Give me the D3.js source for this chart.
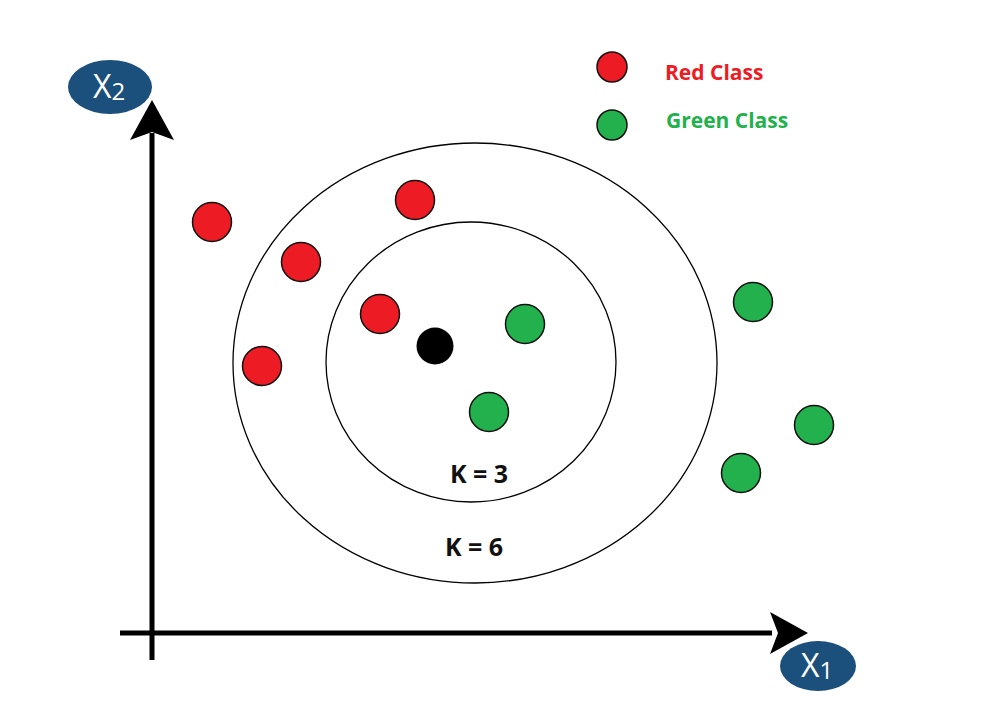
<!DOCTYPE html>
<html><head><meta charset="utf-8">
<script src="https://cdn.jsdelivr.net/npm/d3@7"></script>
<style>body{margin:0;background:#fff}</style>
</head><body>
<svg id="c" width="990" height="723"></svg>
<script>
const redPoints = [[60,411],[149,371],[263,433],[228,319],[110,267]];
const greenPoints = [[373,309],[337,221],[601,331],[662,208],[589,160]];
const queryPoint = [283,287];
const rings = [{k:6, cx:323, cy:270, rx:242, ry:220, labelX:322, labelY:77},{k:3, cx:319, cy:271, rx:145, ry:140, labelX:327, labelY:150}];
const legend = [{name:"Red Class", color:"#ed1c24"},{name:"Green Class", color:"#22b14c"}];

const svg = d3.select("#c");
const x = d3.scaleLinear().domain([0,650]).range([152,802]);
const y = d3.scaleLinear().domain([0,530]).range([633,103]);
const sx = d => x(d)-x(0), sy = d => y(0)-y(d);

// axes
svg.append("line").attr("x1",120).attr("x2",x(620)).attr("y1",y(0)).attr("y2",y(0)).attr("stroke","#000").attr("stroke-width",5);
svg.append("line").attr("x1",x(0)).attr("x2",x(0)).attr("y1",660).attr("y2",y(500)).attr("stroke","#000").attr("stroke-width",5);
svg.append("path").attr("d",`M${x(656)},${y(0)} L${x(618)},${y(0)-21} L${x(626)},${y(0)} L${x(618)},${y(0)+21} Z`).attr("fill","#000");
svg.append("path").attr("d",`M${x(0)},${y(533)} L${x(0)-22},${y(493)} L${x(0)},${y(501)} L${x(0)+22},${y(493)} Z`).attr("fill","#000");

// axis badges
function badge(cx,cy,rx,ry,sub){
  svg.append("ellipse").attr("cx",cx).attr("cy",cy).attr("rx",rx).attr("ry",ry).attr("fill","#1b4f7c");
  const t = svg.append("text").attr("x",cx-1).attr("y",cy+11).attr("text-anchor","middle")
    .attr("fill","#fff").attr("font-family","Open Sans, sans-serif").attr("font-size",32);
  t.append("tspan").text("X");
  t.append("tspan").attr("font-size",24).attr("dy",2).text(sub);
}
badge(110,87,42,27,"2");
badge(818,666,38,25,"1");

// rings
svg.selectAll("ellipse.ring").data(rings).join("ellipse").attr("class","ring")
  .attr("cx",d=>x(d.cx)).attr("cy",d=>y(d.cy)).attr("rx",d=>sx(d.rx)).attr("ry",d=>sy(d.ry))
  .attr("fill","none").attr("stroke","#000").attr("stroke-width",1.3);
svg.selectAll("text.k").data(rings).join("text").attr("class","k")
  .attr("x",d=>x(d.labelX)).attr("y",d=>y(d.labelY)).attr("text-anchor","middle")
  .attr("font-family","Open Sans, sans-serif").attr("font-weight","bold").attr("font-size",25)
  .attr("fill","#111").text(d=>`K = ${d.k}`);

// points
function pts(data,color){
  svg.append("g").selectAll("circle").data(data).join("circle")
    .attr("cx",d=>x(d[0])).attr("cy",d=>y(d[1])).attr("r",19.5)
    .attr("fill",color).attr("stroke","#111").attr("stroke-width",1.5);
}
pts(redPoints,legend[0].color);
pts(greenPoints,legend[1].color);
svg.append("circle").attr("cx",x(queryPoint[0])).attr("cy",y(queryPoint[1])).attr("r",18.5).attr("fill","#000");

// legend
const legCircleY = [67,125], legTextY = [80,128];
const lg = svg.append("g").selectAll("g").data(legend).join("g");
lg.append("circle").attr("cx",612).attr("cy",(d,i)=>legCircleY[i]).attr("r",15).attr("fill",d=>d.color).attr("stroke","#111").attr("stroke-width",1.5);
lg.append("text").attr("x",(d,i)=>665+i).attr("y",(d,i)=>legTextY[i]).text(d=>d.name).attr("fill",d=>d.color)
  .attr("font-family","Open Sans, sans-serif").attr("font-weight","bold").attr("font-size",21);
</script>
</body></html>
